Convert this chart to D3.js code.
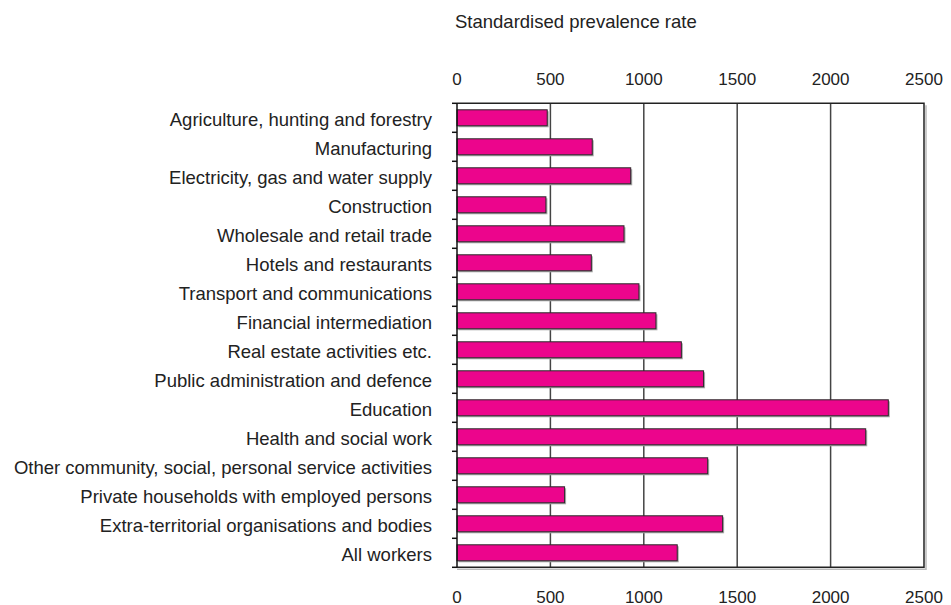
<!DOCTYPE html>
<html>
<head>
<meta charset="utf-8">
<script src="https://cdn.jsdelivr.net/npm/d3@7/dist/d3.min.js"></script>
<style>
  html, body { margin: 0; padding: 0; background: #fff; }
  svg text { font-family: "Liberation Sans", Arial, sans-serif; fill: #222; }
</style>
</head>
<body>
<svg id="chart" width="951" height="605"></svg>
<script>
// Industry sectors, top to bottom
const sectors = [
  "Agriculture, hunting and forestry",
  "Manufacturing",
  "Electricity, gas and water supply",
  "Construction",
  "Wholesale and retail trade",
  "Hotels and restaurants",
  "Transport and communications",
  "Financial intermediation",
  "Real estate activities etc.",
  "Public administration and defence",
  "Education",
  "Health and social work",
  "Other community, social, personal service activities",
  "Private households with employed persons",
  "Extra-territorial organisations and bodies",
  "All workers"
];

// Standardised prevalence rate per sector
const prevalence = [483, 724, 930, 476, 894, 719, 974, 1065, 1201, 1320, 2309, 2188, 1342, 576, 1422, 1179];

const xTicks = [0, 500, 1000, 1500, 2000, 2500];
const titleText = "Standardised prevalence rate";

const svg = d3.select("#chart");
const plotLeft = 457, plotRight = 924, plotTop = 103.3, plotBottom = 567.3;

const x = d3.scaleLinear().domain([0, 2500]).range([plotLeft, plotRight]);
const y = d3.scaleBand().domain(sectors).range([plotTop, plotBottom])
  .paddingInner(0.448).paddingOuter(0.224);

// title
svg.append("text")
  .attr("x", 455).attr("y", 28)
  .attr("font-size", 18.5)
  .text(titleText);

// frame shadow (right and bottom)
svg.append("path")
  .attr("d", `M${plotRight + 2},${plotTop + 2} V${plotBottom + 2} H${plotLeft}`)
  .attr("fill", "none").attr("stroke", "#bbb").attr("stroke-width", 1.5);

// vertical gridlines
svg.append("g")
  .selectAll("line")
  .data(xTicks.slice(1, -1))
  .join("line")
  .attr("x1", d => x(d)).attr("x2", d => x(d))
  .attr("y1", plotTop).attr("y2", plotBottom)
  .attr("stroke", "#444").attr("stroke-width", 1.5);

// frame: top, right, bottom
svg.append("path")
  .attr("d", `M${plotLeft},${plotTop} H${plotRight} V${plotBottom} H${plotLeft}`)
  .attr("fill", "none").attr("stroke", "#222").attr("stroke-width", 1.5);

// bars with a soft drop shadow
const barG = svg.append("g");
barG.selectAll("rect.shadow")
  .data(prevalence)
  .join("rect")
  .attr("class", "shadow")
  .attr("x", x(0) + 1.5)
  .attr("y", (d, i) => y(sectors[i]) + 1.5)
  .attr("width", d => x(d) - x(0))
  .attr("height", y.bandwidth())
  .attr("fill", "#aaa");
barG.selectAll("rect.bar")
  .data(prevalence)
  .join("rect")
  .attr("class", "bar")
  .attr("x", x(0))
  .attr("y", (d, i) => y(sectors[i]))
  .attr("width", d => x(d) - x(0))
  .attr("height", y.bandwidth())
  .attr("fill", "#ec058c")
  .attr("stroke", "#2a2a2a").attr("stroke-width", 1);

// left category axis: line and ticks at band boundaries
const boundaries = sectors.map(s => y(s) - y.step() * y.paddingInner() / 2);
boundaries.push(plotBottom);
const yAxisG = svg.append("g");
yAxisG.append("line")
  .attr("x1", plotLeft).attr("x2", plotLeft).attr("y1", plotTop).attr("y2", plotBottom)
  .attr("stroke", "#111").attr("stroke-width", 1.5);
yAxisG.selectAll("line.tick")
  .data(boundaries)
  .join("line")
  .attr("class", "tick")
  .attr("x1", plotLeft - 5).attr("x2", plotLeft)
  .attr("y1", d => d).attr("y2", d => d)
  .attr("stroke", "#111").attr("stroke-width", 1.5);

// category labels
svg.append("g")
  .selectAll("text")
  .data(sectors)
  .join("text")
  .attr("x", 432)
  .attr("y", d => y(d) + y.bandwidth() / 2)
  .attr("dy", "0.42em")
  .attr("text-anchor", "end")
  .attr("font-size", 18.5)
  .text(d => d);

// value axis labels, top and bottom
[85, 602.5].forEach(by => {
  svg.append("g")
    .selectAll("text")
    .data(xTicks)
    .join("text")
    .attr("x", d => x(d))
    .attr("y", by)
    .attr("text-anchor", "middle")
    .attr("font-size", 17)
    .text(d => d);
});
</script>
</body>
</html>
